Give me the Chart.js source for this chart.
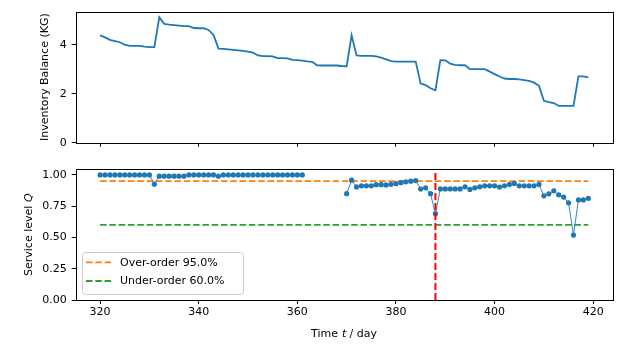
<!DOCTYPE html>
<html>
<head>
<meta charset="utf-8">
<script src="https://cdn.jsdelivr.net/npm/chart.js@4/dist/chart.umd.min.js"></script>
<style>
  html, body { margin: 0; padding: 0; background: #fff; }
  #wrap { position: relative; width: 617px; height: 346px; }
  canvas { position: absolute; left: 0; }
  #invChart { top: 0; }
  #svcChart { top: 155px; }
</style>
</head>
<body>
<div id="wrap">
  <canvas id="invChart" width="617" height="155"></canvas>
  <canvas id="svcChart" width="617" height="191"></canvas>
</div>
<script>
// ---- data ----
const firstDay = 320;
const nDays = 100;

// inventory balance in KG, days 320..419
const inventory = [
  4.38, 4.30, 4.20, 4.15, 4.10, 4.00, 3.95, 3.95, 3.95, 3.92,
  3.90, 3.90, 5.12, 4.85, 4.82, 4.80, 4.78, 4.76, 4.76, 4.68,
  4.67, 4.67, 4.60, 4.40, 3.84, 3.83, 3.81, 3.79, 3.77, 3.75,
  3.72, 3.68, 3.56, 3.53, 3.53, 3.52, 3.45, 3.45, 3.44, 3.38,
  3.37, 3.35, 3.32, 3.30, 3.16, 3.15, 3.15, 3.15, 3.15, 3.13,
  3.12, 4.38, 3.56, 3.54, 3.54, 3.54, 3.52, 3.47, 3.40, 3.33,
  3.31, 3.31, 3.31, 3.31, 3.31, 2.41, 2.35, 2.22, 2.14, 3.37,
  3.36, 3.23, 3.18, 3.16, 3.16, 3.00, 3.00, 3.00, 3.00, 2.90,
  2.80, 2.70, 2.62, 2.60, 2.60, 2.58, 2.55, 2.52, 2.45, 2.32,
  1.71, 1.66, 1.62, 1.50, 1.50, 1.50, 1.50, 2.71, 2.71, 2.67
];

// service level Q, days 320..419 (null = no value)
const serviceLevel = [
  1.00, 1.00, 1.00, 1.00, 1.00, 1.00, 1.00, 1.00, 1.00, 1.00,
  1.00, 0.926, 0.99, 0.99, 0.99, 0.99, 0.99, 0.99, 1.00, 1.00,
  1.00, 1.00, 1.00, 1.00, 0.99, 1.00, 1.00, 1.00, 1.00, 1.00,
  1.00, 1.00, 1.00, 1.00, 1.00, 1.00, 1.00, 1.00, 1.00, 1.00,
  1.00, 1.00, null, null, null, null, null, null, null, null,
  0.85, 0.958, 0.904, 0.913, 0.913, 0.913, 0.922, 0.922, 0.92, 0.925,
  0.93, 0.938, 0.945, 0.95, 0.955, 0.887, 0.897, 0.85, 0.69, 0.888,
  0.888, 0.888, 0.888, 0.888, 0.905, 0.884, 0.897, 0.905, 0.913, 0.913,
  0.913, 0.903, 0.913, 0.924, 0.932, 0.913, 0.913, 0.913, 0.913, 0.924,
  0.833, 0.849, 0.873, 0.841, 0.823, 0.777, 0.519, 0.80, 0.80, 0.813
];

const overOrder = 0.95;
const underOrder = 0.60;
const orderDay = 388;

const xTicks = [320, 340, 360, 380, 400, 420];
const invTicks = [0, 2, 4];
const svcTicks = [0, 0.25, 0.5, 0.75, 1.0];

// axis limits (matplotlib-style 5% margin on x)
const xMin = 315.05, xMax = 423.95;
const invMin = 0, invMax = 5.35;
const svcMin = 0, svcMax = 1.045;

// ---- helpers ----
const days = Array.from({ length: nDays }, (_, i) => firstDay + i);
const toPoints = vals => days.map((d, i) => ({ x: d, y: vals[i] }));
const hLine = y => [{ x: days[0], y: y }, { x: days[nDays - 1], y: y }];

Chart.defaults.font.family = "'DejaVu Sans', sans-serif";
Chart.defaults.font.size = 11;
Chart.defaults.color = '#000';

const FONT = "11px 'DejaVu Sans', sans-serif";
const FONT_I = "italic 11px 'DejaVu Sans', sans-serif";

// draws a title made of plain / italic pieces, centred on (cx, cy)
function drawRich(ctx, segs, cx, cy, rotate) {
  ctx.save();
  ctx.setLineDash([]);
  ctx.fillStyle = '#000';
  ctx.textBaseline = 'middle';
  ctx.textAlign = 'left';
  let total = 0;
  segs.forEach(s => { ctx.font = s.i ? FONT_I : FONT; total += ctx.measureText(s.t).width; });
  let off = Math.round(-total / 2);
  segs.forEach(s => {
    ctx.font = s.i ? FONT_I : FONT;
    const w = ctx.measureText(s.t).width;
    ctx.save();
    if (rotate) {
      ctx.translate(Math.round(cx), Math.round(cy - off));
      ctx.rotate(-Math.PI / 2);
    } else {
      ctx.translate(Math.round(cx + off), Math.round(cy));
    }
    ctx.fillText(s.t, 0, 0);
    ctx.restore();
    off += w;
  });
  ctx.restore();
}

// frame + axis titles + legend
const decorPlugin = {
  id: 'decor',
  afterDraw(chart, args, opts) {
    const { ctx, chartArea: a } = chart;
    ctx.save();
    ctx.setLineDash([]);
    ctx.strokeStyle = '#000';
    ctx.lineWidth = 1;
    ctx.strokeRect(Math.round(a.left) + 0.5, Math.round(a.top) + 0.5,
                   Math.round(a.right - a.left), Math.round(a.bottom - a.top));
    ctx.restore();

    if (opts.yTitle) drawRich(ctx, opts.yTitle, opts.yTitleX, (a.top + a.bottom) / 2, true);
    if (opts.xTitle) drawRich(ctx, opts.xTitle, (a.left + a.right) / 2, opts.xTitleY, false);

    if (opts.legend) {
      const items = chart.data.datasets.filter(d => d.inLegend);
      const bw = 161, rowH = 18.7, bh = 42;
      const bx = a.left + 6, by = a.bottom - 5.7 - bh;
      ctx.save();
      ctx.setLineDash([]);
      ctx.fillStyle = 'rgba(255,255,255,0.8)';
      ctx.strokeStyle = '#cccccc';
      ctx.lineWidth = 1;
      ctx.beginPath();
      ctx.roundRect(Math.round(bx) + 0.5, Math.round(by) + 0.5, bw, bh, 3);
      ctx.fill();
      ctx.stroke();
      items.forEach((d, k) => {
        const y = by + 10 + k * rowH;
        ctx.strokeStyle = d.borderColor;
        ctx.lineWidth = d.borderWidth;
        ctx.setLineDash(d.borderDash || []);
        ctx.beginPath();
        ctx.moveTo(bx + 4.3, y);
        ctx.lineTo(bx + 29.3, y);
        ctx.stroke();
        ctx.setLineDash([]);
        ctx.fillStyle = '#000';
        ctx.font = FONT;
        ctx.textBaseline = 'middle';
        ctx.fillText(d.label, bx + 38.3, y + 0.5);
      });
      ctx.restore();
    }
  }
};

function xScale(showLabels, height) {
  return {
    type: 'linear', min: xMin, max: xMax,
    afterBuildTicks: s => { s.ticks = xTicks.map(v => ({ value: v })); },
    afterFit: s => { s.height = height; },
    grid: { drawOnChartArea: false, drawTicks: true, tickLength: 4, tickColor: '#000' },
    border: { display: false },
    ticks: { display: showLabels, autoSkip: false, maxRotation: 0, padding: 2 }
  };
}

function yScale(min, max, tickVals, fmt) {
  return {
    min: min, max: max,
    afterBuildTicks: s => { s.ticks = tickVals.map(v => ({ value: v })); },
    afterFit: s => { s.width = 75.7; },
    grid: { drawOnChartArea: false, drawTicks: true, tickLength: 4, tickColor: '#000' },
    border: { display: false },
    ticks: { padding: 5, callback: fmt }
  };
}

// ---- top: inventory balance ----
new Chart(document.getElementById('invChart'), {
  type: 'line',
  data: {
    datasets: [{
      label: 'Inventory',
      data: toPoints(inventory),
      borderColor: '#1f77b4', borderWidth: 1.8, pointRadius: 0, tension: 0
    }]
  },
  options: {
    responsive: false, animation: false, events: [],
    layout: { padding: { top: 11, right: 4.3, left: 0, bottom: 0 } },
    scales: {
      x: xScale(false, 12.3),
      y: yScale(invMin, invMax, invTicks, v => String(v))
    },
    plugins: {
      legend: { display: false }, tooltip: { enabled: false },
      decor: { yTitle: [{ t: 'Inventory Balance (KG)' }], yTitleX: 45 }
    }
  },
  plugins: [decorPlugin]
});

// ---- bottom: service level ----
new Chart(document.getElementById('svcChart'), {
  type: 'line',
  data: {
    datasets: [
      {
        label: 'Order day',
        data: [{ x: orderDay, y: svcMin }, { x: orderDay, y: svcMax }],
        borderColor: '#ff0000', borderWidth: 2, borderDash: [7, 3], pointRadius: 0
      },
      {
        label: 'Service level',
        data: toPoints(serviceLevel),
        borderColor: '#1f77b4', backgroundColor: '#1f77b4', borderWidth: 0.9,
        pointRadius: 2.6, pointBorderWidth: 0, spanGaps: false, tension: 0
      },
      {
        label: 'Over-order ' + (overOrder * 100).toFixed(1) + '%', inLegend: true,
        data: hLine(overOrder),
        borderColor: '#ff7f0e', borderWidth: 1.8, borderDash: [6.5, 2.8], pointRadius: 0
      },
      {
        label: 'Under-order ' + (underOrder * 100).toFixed(1) + '%', inLegend: true,
        data: hLine(underOrder),
        borderColor: '#2ca02c', borderWidth: 1.8, borderDash: [6.5, 2.8], pointRadius: 0
      }
    ]
  },
  options: {
    responsive: false, animation: false, events: [],
    layout: { padding: { top: 14.3, right: 4.3, left: 0, bottom: 0 } },
    scales: {
      x: xScale(true, 46),
      y: yScale(svcMin, svcMax, svcTicks, v => v.toFixed(2))
    },
    plugins: {
      legend: { display: false }, tooltip: { enabled: false },
      decor: {
        yTitle: [{ t: 'Service level ' }, { t: 'Q', i: true }],
        yTitleX: 29,
        xTitle: [{ t: 'Time ' }, { t: 't', i: true }, { t: ' / day' }],
        xTitleY: 179,
        legend: true
      }
    }
  },
  plugins: [decorPlugin]
});
</script>
</body>
</html>
